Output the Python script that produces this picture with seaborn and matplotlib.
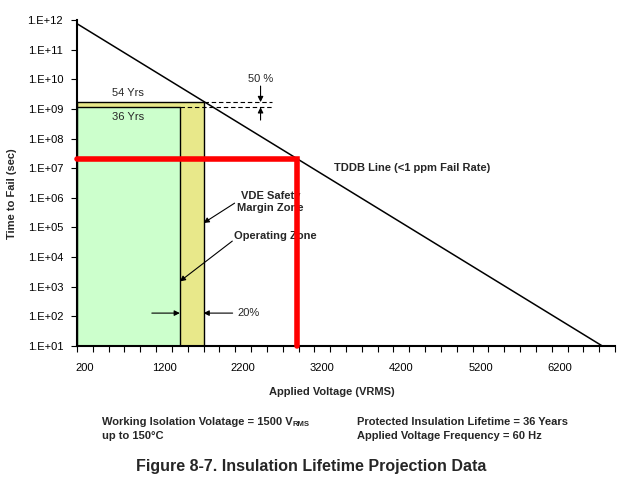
import matplotlib
matplotlib.use("Agg")
import matplotlib.pyplot as plt
import matplotlib.transforms as mtransforms
import numpy as np
import pandas as pd
import seaborn as sns

# values
tddb_volts = [200, 6840]            # TDDB line end points (VRMS)
tddb_secs = [7.5e11, 10]            # time to fail (sec)
working_volts = 1500                # operating zone right edge
margin_volts = 1800                 # +20 % VDE safety margin
life_36_secs = 1.136e9              # 36 years
life_54_secs = 1.70e9               # 54 years
dash_end_volts = 2670               # end of the dashed 50 % guides
red_volts = 2980                    # red marker corner
red_secs = 2.0e7
x_tick_values = [200, 1200, 2200, 3200, 4200, 5200, 6200]
x_tick_labels = ["200", "1200", "2200", "3200", "4200", "5200", "6200"]
y_tick_values = [10.0 ** k for k in range(1, 13)]
y_tick_labels = ["1.E+%02d" % k for k in range(1, 13)]

X_MIN, X_MAX = 200, 7000
Y_MIN, Y_MAX = 10, 1e12
FS = 8


def main() -> None:
    sns.set_theme(style="white")
    plt.rcParams["font.family"] = ["Liberation Sans", "DejaVu Sans"]

    fig = plt.figure(figsize=(6.4, 4.79), dpi=100)
    ax = fig.add_axes([77 / 640, 1 - 346 / 479, (615 - 77) / 640, (346 - 20) / 479])

    # zones
    ax.fill_between([X_MIN, margin_volts], Y_MIN, life_54_secs,
                    facecolor="#e8e88a", edgecolor="black", lw=1.0, zorder=1)
    ax.fill_between([X_MIN, working_volts], Y_MIN, life_36_secs,
                    facecolor="#ccffcc", edgecolor="black", lw=1.0, zorder=2)

    # dashed guides for the 50 % gap
    ax.plot([margin_volts, dash_end_volts], [life_54_secs, life_54_secs],
            color="black", lw=0.8, ls=(0, (4, 2.5)), zorder=3)
    ax.plot([working_volts, dash_end_volts], [life_36_secs, life_36_secs],
            color="black", lw=0.8, ls=(0, (4, 2.5)), zorder=3)

    # TDDB line
    df = pd.DataFrame({"volts": tddb_volts, "secs": tddb_secs})
    sns.lineplot(data=df, x="volts", y="secs", color="black", lw=1.1, ax=ax, zorder=4)

    # red marker (drawn over the labels, as in the original)
    ax.plot([X_MIN, red_volts, red_volts], [red_secs, red_secs, Y_MIN],
            color="#ff0000", lw=4, solid_joinstyle="miter", zorder=6, clip_on=False)

    ax.set_xscale("linear")
    ax.set_yscale("log")
    ax.set_xlim(X_MIN, X_MAX)
    ax.set_ylim(Y_MIN, Y_MAX)
    ax.set_xlabel("")
    ax.set_ylabel("")

    ax.set_xticks(x_tick_values)
    ax.set_xticklabels(x_tick_labels)
    ax.set_xticks(np.arange(X_MIN, X_MAX + 1, 200), minor=True)
    ax.set_yticks(y_tick_values)
    ax.set_yticklabels(y_tick_labels)

    ax.tick_params(axis="x", which="both", direction="out", length=4, width=0.8,
                   colors="black", labelsize=FS, pad=8, bottom=True)
    ax.tick_params(axis="y", which="major", direction="out", length=4, width=0.8,
                   colors="black", labelsize=FS, pad=6, left=True)
    ax.tick_params(axis="y", which="minor", direction="out", length=2, width=0.6,
                   colors="black", left=True)

    shift = mtransforms.ScaledTranslation(8 / 100, 0, fig.dpi_scale_trans)
    for lab in ax.get_xticklabels():
        lab.set_transform(lab.get_transform() + shift)

    for side in ("top", "right"):
        ax.spines[side].set_visible(False)
    for side in ("left", "bottom"):
        ax.spines[side].set_color("black")
        ax.spines[side].set_linewidth(1.5)

    # annotations
    ax.text(850, 3.4e9, "54 Yrs", fontsize=FS, ha="center", va="center")
    ax.text(850, 5.2e8, "36 Yrs", fontsize=FS, ha="center", va="center")
    ax.text(2520, 1.0e10, "50 %", fontsize=FS, ha="center", va="center")
    arrow = dict(arrowstyle="-|>", color="black", lw=0.8, mutation_scale=8,
                 shrinkA=0, shrinkB=0)
    ax.annotate("", xy=(2520, life_54_secs), xytext=(2520, 5.9e9), arrowprops=arrow)
    ax.annotate("", xy=(2520, life_36_secs), xytext=(2520, 4.2e8), arrowprops=arrow)

    ax.text(3450, 1.0e7, "TDDB Line (<1 ppm Fail Rate)", fontsize=FS,
            fontweight="bold", ha="left", va="center")
    ax.text(2646, 7.2e5, "VDE Safety\nMargin Zone", fontsize=FS, fontweight="bold",
            ha="center", va="center", linespacing=1.25, zorder=3)
    ax.annotate("", xy=(margin_volts, 10 ** 5.15), xytext=(2192, 10 ** 5.82),
                arrowprops=arrow)
    ax.text(2184, 10 ** 4.70, "Operating Zone", fontsize=FS, fontweight="bold",
            ha="left", va="center", zorder=3)
    ax.annotate("", xy=(working_volts, 10 ** 3.18), xytext=(2163, 10 ** 4.54),
                arrowprops=arrow)

    ax.annotate("", xy=(working_volts, 10 ** 2.11), xytext=(1146, 10 ** 2.11),
                arrowprops=arrow)
    ax.annotate("", xy=(margin_volts, 10 ** 2.11), xytext=(2167, 10 ** 2.11),
                arrowprops=arrow)
    ax.text(2226, 10 ** 2.11, "20%", fontsize=FS, ha="left", va="center")

    # axis titles and notes
    fig.text(331.5 / 640, 1 - 392 / 479, "Applied Voltage (VRMS)", fontsize=FS,
             fontweight="bold", ha="center", va="center")
    fig.text(12.5 / 640, 1 - 194 / 479, "Time to Fail (sec)", fontsize=FS,
             fontweight="bold", ha="center", va="center", rotation=90)
    note = fig.text(101.7 / 640, 1 - 422.3 / 479,
                    "Working Isolation Volatage = 1500 V",
                    fontsize=FS, fontweight="bold", ha="left", va="center")
    renderer = fig.canvas.get_renderer()
    bb = note.get_window_extent(renderer)
    fig.text(bb.x1 / 640, 1 - 425 / 479, "RMS", fontsize=5.5,
             fontweight="bold", ha="left", va="center")
    fig.text(101.7 / 640, 1 - 435.7 / 479, "up to 150°C", fontsize=FS,
             fontweight="bold", ha="left", va="center")
    fig.text(356.7 / 640, 1 - 422.3 / 479, "Protected Insulation Lifetime = 36 Years",
             fontsize=FS, fontweight="bold", ha="left", va="center")
    fig.text(356.7 / 640, 1 - 435.7 / 479, "Applied Voltage Frequency = 60 Hz",
             fontsize=FS, fontweight="bold", ha="left", va="center")
    fig.text(311.5 / 640, 1 - 466.7 / 479,
             "Figure 8-7. Insulation Lifetime Projection Data",
             fontsize=11.5, fontweight="bold", ha="center", va="center")

    fig.savefig("out.png", dpi=100)


if __name__ == "__main__":
    main()
